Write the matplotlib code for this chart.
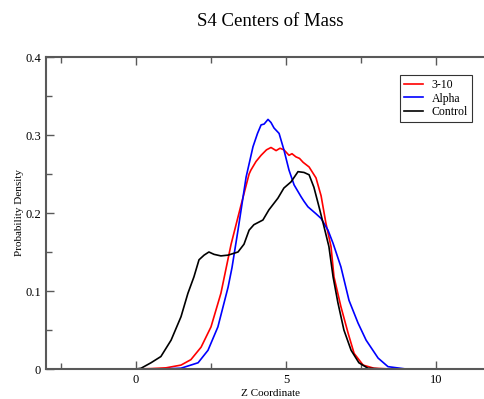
import numpy as np
import matplotlib
matplotlib.use("Agg")
import matplotlib.pyplot as plt
from matplotlib.ticker import MultipleLocator

# --- data ---
x_310 = [-3.0, 0.0, 0.5, 1.0, 1.5, 1.83, 2.17, 2.5, 2.83, 3.17, 3.5, 3.77, 3.83, 4.0, 4.17,
         4.35, 4.5, 4.67, 4.8, 4.93, 5.1, 5.2, 5.33, 5.45, 5.57, 5.77, 6.0, 6.17, 6.33, 6.5,
         6.6, 6.83, 7.07, 7.27, 7.57, 7.93, 8.5, 10.0]
y_310 = [0.0, 0.0, 0.0005, 0.0015, 0.005, 0.012, 0.028, 0.054, 0.097, 0.16, 0.21, 0.25, 0.255,
         0.266, 0.274, 0.281, 0.284, 0.280, 0.283, 0.281, 0.274, 0.276, 0.272, 0.270, 0.265,
         0.259, 0.245, 0.222, 0.187, 0.157, 0.118, 0.080, 0.046, 0.020, 0.005, 0.001, 0.0, 0.0]

x_alpha = [-3.0, 0.0, 1.0, 1.5, 2.07, 2.4, 2.73, 3.07, 3.2, 3.4, 3.67, 3.9, 4.05, 4.17, 4.27,
           4.4, 4.5, 4.6, 4.77, 4.93, 5.1, 5.27, 5.5, 5.6, 5.73, 6.0, 6.17, 6.4, 6.57, 6.83,
           7.1, 7.4, 7.67, 8.07, 8.4, 9.0, 10.0]
y_alpha = [0.0, 0.0, 0.0002, 0.001, 0.008, 0.024, 0.054, 0.105, 0.13, 0.178, 0.246, 0.285,
           0.302, 0.313, 0.314, 0.320, 0.316, 0.309, 0.302, 0.281, 0.255, 0.236, 0.221, 0.215,
           0.208, 0.199, 0.193, 0.178, 0.161, 0.131, 0.088, 0.059, 0.037, 0.014, 0.003, 0.0,
           0.0]

x_ctrl = [-3.0, 0.0, 0.17, 0.5, 0.83, 1.17, 1.5, 1.73, 1.93, 2.1, 2.27, 2.43, 2.6, 2.83, 3.07,
          3.4, 3.6, 3.77, 3.93, 4.23, 4.43, 4.73, 4.93, 5.17, 5.4, 5.6, 5.77, 5.93, 6.1, 6.27,
          6.43, 6.57, 6.73, 6.93, 7.17, 7.43, 7.73, 8.2, 10.0]
y_ctrl = [0.0, 0.0, 0.001, 0.008, 0.016, 0.037, 0.067, 0.097, 0.118, 0.140, 0.146, 0.150,
          0.147, 0.145, 0.146, 0.150, 0.160, 0.178, 0.185, 0.191, 0.204, 0.219, 0.232, 0.240,
          0.253, 0.252, 0.249, 0.233, 0.208, 0.182, 0.157, 0.118, 0.085, 0.050, 0.024, 0.008,
          0.001, 0.0, 0.0]

plt.rcParams['font.family'] = ['Liberation Serif', 'DejaVu Serif']

fig = plt.figure(figsize=(4.85, 3.99), dpi=100)
ax = fig.add_axes([46 / 485, 1 - 369 / 399, 450 / 485, 312 / 399])

ax.plot(x_310, y_310, color='#ff0000', lw=1.2, label='3-10')
ax.plot(x_alpha, y_alpha, color='#0000ff', lw=1.2, label='Alpha')
ax.plot(x_ctrl, y_ctrl, color='black', lw=1.2, label='Control')

ax.set_xlim(-3, 12)
ax.set_ylim(0, 0.4)
ax.xaxis.set_major_locator(MultipleLocator(5))
ax.xaxis.set_minor_locator(MultipleLocator(2.5))
ax.yaxis.set_major_locator(MultipleLocator(0.1))
ax.yaxis.set_minor_locator(MultipleLocator(0.05))
ax.set_yticks([0, 0.1, 0.2, 0.3, 0.4])
ax.set_yticklabels(['0', '0.1', '0.2', '0.3', '0.4'])
ax.tick_params(which='both', direction='in', top=True, right=True, labelsize=9,
               color='0.35', width=1)
ax.tick_params(which='major', length=6)
ax.tick_params(which='minor', length=4)
for s in ax.spines.values():
    s.set_color('0.35')
    s.set_linewidth(1.5)

ax.set_xlabel('Z Coordinate', fontsize=8, labelpad=2)
ax.set_ylabel('Probability Density', fontsize=8, labelpad=1)
fig.text(270 / 485, 1 - 22 / 399, 'S4 Centers of Mass', ha='center', va='center', fontsize=13.5)

leg = ax.legend(loc='upper right', bbox_to_anchor=(472 / 485, 1 - 75 / 399),
                bbox_transform=fig.transFigure, fontsize=8.5, frameon=True, fancybox=False,
                handlelength=1.6, borderpad=0.35, labelspacing=0.12, handletextpad=0.7,
                borderaxespad=0)
leg.get_frame().set_edgecolor('black')
leg.get_frame().set_linewidth(0.8)

fig.savefig('out.png', dpi=100)
